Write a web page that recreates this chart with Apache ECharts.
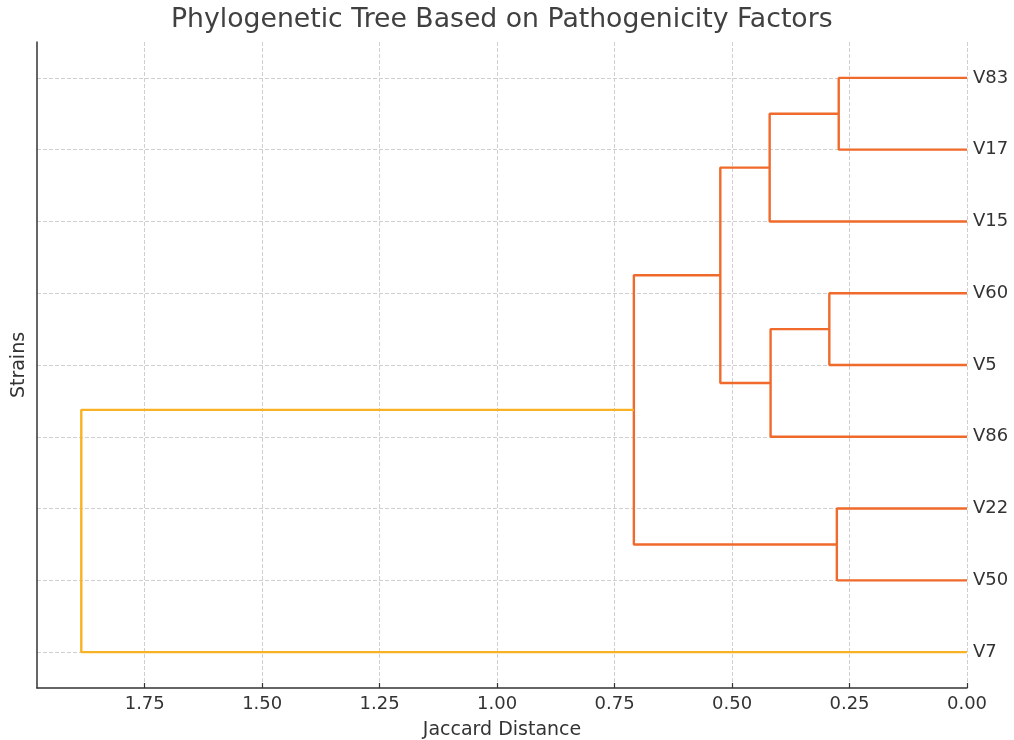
<!DOCTYPE html>
<html>
<head>
<meta charset="utf-8">
<title>Phylogenetic Tree</title>
<script src="https://cdn.jsdelivr.net/npm/echarts@6/dist/echarts.min.js"></script>
<style>
  html, body { margin: 0; padding: 0; background: #fff; }
  #chart { width: 1014px; height: 740px; }
</style>
</head>
<body>
<div id="chart"></div>
<script>
// leaves, bottom to top
var leafNames = ['V7', 'V50', 'V22', 'V86', 'V5', 'V60', 'V15', 'V17', 'V83'];

// merges (like a linkage matrix), cluster i is named 'c' + i
var mergeLeft = ['V83', 'c0', 'V60', 'c2', 'c1', 'V22', 'c4', 'c6'];
var mergeRight = ['V17', 'V15', 'V5', 'V86', 'c3', 'V50', 'c5', 'V7'];
var mergeHeight = [0.273, 0.420, 0.293, 0.418, 0.525, 0.277, 0.709, 1.885];

var xTicks = [0, 0.25, 0.5, 0.75, 1.0, 1.25, 1.5, 1.75];

var clusterColor = '#F06A2B';
var aboveColor = '#F9B224';
var font = 'DejaVu Sans';

var chart = echarts.init(document.getElementById('chart'));

// position and height of every node
var nodeY = {};
var nodeH = {};
leafNames.forEach(function (n, i) {
    nodeY[n] = i;
    nodeH[n] = 0;
});
var maxH = Math.max.apply(null, mergeHeight);
var threshold = 0.7 * maxH;

var series = [];
mergeLeft.forEach(function (a, i) {
    var b = mergeRight[i];
    var h = mergeHeight[i];
    var id = 'c' + i;
    nodeY[id] = (nodeY[a] + nodeY[b]) / 2;
    nodeH[id] = h;
    series.push({
        type: 'line',
        showSymbol: false,
        silent: true,
        animation: false,
        lineStyle: {
            width: 2.4,
            color: h < threshold ? clusterColor : aboveColor
        },
        data: [
            [nodeH[a], nodeY[a]],
            [h, nodeY[a]],
            [h, nodeY[b]],
            [nodeH[b], nodeY[b]]
        ]
    });
});

chart.setOption({
    textStyle: { fontFamily: font },
    title: {
        text: 'Phylogenetic Tree Based on Pathogenicity Factors',
        left: 171,
        top: 7,
        padding: 0,
        textStyle: {
            fontFamily: font,
            fontSize: 26.7,
            fontWeight: 'normal',
            color: '#404040'
        }
    },
    grid: {
        left: 37,
        right: 47,
        top: 42,
        bottom: 52,
        outerBoundsMode: 'none'
    },
    xAxis: {
        type: 'value',
        inverse: true,
        min: 0,
        max: maxH * 1.05,
        interval: 0.25,
        name: 'Jaccard Distance',
        nameLocation: 'middle',
        nameGap: 33,
        nameTextStyle: { fontFamily: font, fontSize: 19, color: '#333' },
        axisLine: { show: true, onZero: false, lineStyle: { color: '#333', width: 1.5 } },
        axisTick: { show: true, inside: true, length: 5, lineStyle: { color: '#333', width: 1.2 } },
        axisLabel: {
            showMaxLabel: false,
            margin: 7,
            fontFamily: font,
            fontSize: 18,
            color: '#333',
            formatter: function (v) {
                return xTicks.indexOf(v) >= 0 ? v.toFixed(2) : '';
            }
        },
        splitLine: {
            show: true,
            showMaxLine: false,
            lineStyle: { color: '#cfcfcf', type: 'dashed', width: 1 }
        }
    },
    yAxis: [{
        type: 'value',
        position: 'right',
        min: -0.5,
        max: leafNames.length - 0.5,
        splitNumber: leafNames.length,
        minInterval: 1,
        maxInterval: 1,
        axisLine: { show: false, onZero: false },
        axisTick: { show: false },
        axisLabel: {
            showMinLabel: false,
            showMaxLabel: false,
            margin: 6,
            fontFamily: font,
            fontSize: 18,
            color: '#333',
            formatter: function (v) {
                var k = Math.round(v);
                return Math.abs(v - k) < 1e-6 && leafNames[k] ? leafNames[k] : '';
            }
        },
        splitLine: {
            show: true,
            showMinLine: false,
            showMaxLine: false,
            lineStyle: { color: '#cfcfcf', type: 'dashed', width: 1 }
        }
    }, {
        type: 'value',
        position: 'left',
        min: -0.5,
        max: leafNames.length - 0.5,
        name: 'Strains',
        nameLocation: 'middle',
        nameGap: 8,
        nameRotate: 90,
        nameTextStyle: { fontFamily: font, fontSize: 19, color: '#333' },
        axisLine: { show: true, onZero: false, lineStyle: { color: '#333', width: 1.5 } },
        axisTick: { show: false },
        axisLabel: { show: false },
        splitLine: { show: false }
    }],
    series: series
});
</script>
</body>
</html>
